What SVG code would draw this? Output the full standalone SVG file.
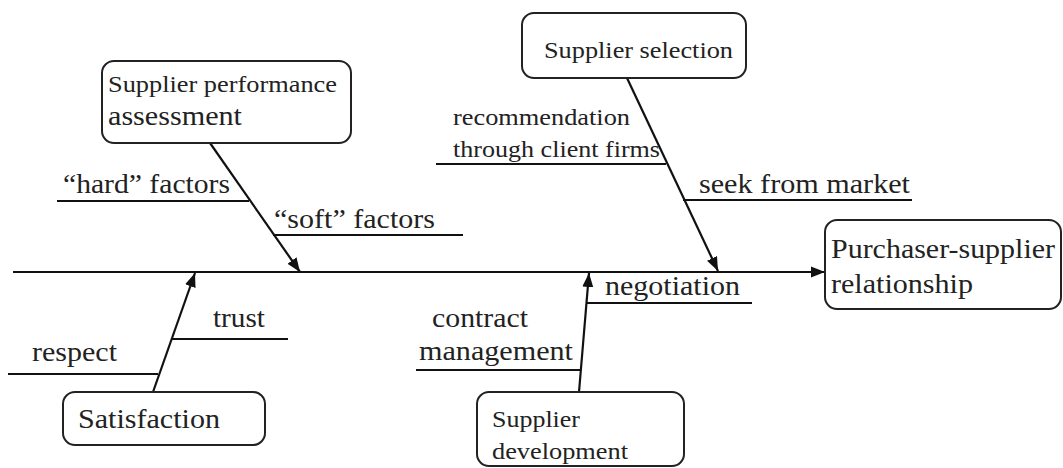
<svg xmlns="http://www.w3.org/2000/svg" width="1063" height="468" viewBox="0 0 1063 468">
<style>
.box{fill:#fff;stroke:#222;stroke-width:2}
.ln{stroke:#111;stroke-width:2.2;fill:none}
</style>
<defs>
<marker id="ah" markerUnits="userSpaceOnUse" markerWidth="15" markerHeight="12" refX="14" refY="6" orient="auto">
<path d="M0,0.5 L14,6 L0,11.5 z" fill="#111"/>
</marker>
</defs>
<rect width="1063" height="468" fill="#fff"/>
<g id="connectors">
<line class="ln" x1="13" y1="272" x2="825" y2="272" marker-end="url(#ah)"/>
<line class="ln" x1="210" y1="143" x2="300" y2="272" marker-end="url(#ah)"/>
<line class="ln" x1="627" y1="78" x2="718" y2="271" marker-end="url(#ah)"/>
<line class="ln" x1="153" y1="392" x2="195" y2="273" marker-end="url(#ah)"/>
<line class="ln" x1="579" y1="392" x2="589" y2="273" marker-end="url(#ah)"/>
<line class="ln" x1="57" y1="201" x2="249" y2="201"/>
<line class="ln" x1="273" y1="235" x2="463" y2="235"/>
<line class="ln" x1="436" y1="164" x2="666" y2="164"/>
<line class="ln" x1="683" y1="200" x2="912" y2="200"/>
<line class="ln" x1="587" y1="303" x2="752" y2="303"/>
<line class="ln" x1="416" y1="370" x2="581" y2="370"/>
<line class="ln" x1="172" y1="339" x2="288" y2="339"/>
<line class="ln" x1="8" y1="374" x2="158" y2="374"/>
</g>
<g id="spa">
<rect class="box" x="102" y="61" width="249" height="82" rx="12"/>
<text font-family="Liberation Serif" font-size="23" fill="#222" x="108" y="92" textLength="229" lengthAdjust="spacingAndGlyphs">Supplier performance</text>
<text font-family="Liberation Serif" font-size="27" fill="#222" x="108" y="125" textLength="134" lengthAdjust="spacingAndGlyphs">assessment</text>
</g>
<g id="ss">
<rect class="box" x="522" y="13" width="224" height="65" rx="12"/>
<text font-family="Liberation Serif" font-size="23" fill="#222" x="544" y="58" textLength="189" lengthAdjust="spacingAndGlyphs">Supplier selection</text>
</g>
<g id="psr">
<rect class="box" x="825" y="220" width="236" height="89" rx="12"/>
<text font-family="Liberation Serif" font-size="27" fill="#222" x="831" y="258" textLength="224" lengthAdjust="spacingAndGlyphs">Purchaser-supplier</text>
<text font-family="Liberation Serif" font-size="27" fill="#222" x="831" y="293" textLength="142" lengthAdjust="spacingAndGlyphs">relationship</text>
</g>
<g id="sd">
<rect class="box" x="477" y="392" width="207" height="74" rx="12"/>
<text font-family="Liberation Serif" font-size="23" fill="#222" x="492" y="427" textLength="88" lengthAdjust="spacingAndGlyphs">Supplier</text>
<text font-family="Liberation Serif" font-size="23" fill="#222" x="492" y="459" textLength="136" lengthAdjust="spacingAndGlyphs">development</text>
</g>
<g id="sat">
<rect class="box" x="63" y="392" width="202" height="53" rx="12"/>
<text font-family="Liberation Serif" font-size="27" fill="#222" x="78" y="428" textLength="142" lengthAdjust="spacingAndGlyphs">Satisfaction</text>
</g>
<g id="labels">
<text font-family="Liberation Serif" font-size="27" fill="#222" x="63" y="193" textLength="167" lengthAdjust="spacingAndGlyphs">“hard” factors</text>
<text font-family="Liberation Serif" font-size="27" fill="#222" x="274" y="228" textLength="161" lengthAdjust="spacingAndGlyphs">“soft” factors</text>
<text font-family="Liberation Serif" font-size="23" fill="#222" x="453" y="125" textLength="177" lengthAdjust="spacingAndGlyphs">recommendation</text>
<text font-family="Liberation Serif" font-size="23" fill="#222" x="453" y="157" textLength="207" lengthAdjust="spacingAndGlyphs">through client firms</text>
<text font-family="Liberation Serif" font-size="27" fill="#222" x="699" y="193" textLength="211" lengthAdjust="spacingAndGlyphs">seek from market</text>
<text font-family="Liberation Serif" font-size="27" fill="#222" x="605" y="295" textLength="135" lengthAdjust="spacingAndGlyphs">negotiation</text>
<text font-family="Liberation Serif" font-size="27" fill="#222" x="432" y="327" textLength="96" lengthAdjust="spacingAndGlyphs">contract</text>
<text font-family="Liberation Serif" font-size="27" fill="#222" x="419" y="360" textLength="154" lengthAdjust="spacingAndGlyphs">management</text>
<text font-family="Liberation Serif" font-size="27" fill="#222" x="213" y="327" textLength="52" lengthAdjust="spacingAndGlyphs">trust</text>
<text font-family="Liberation Serif" font-size="27" fill="#222" x="32" y="361" textLength="85" lengthAdjust="spacingAndGlyphs">respect</text>
</g>
</svg>
